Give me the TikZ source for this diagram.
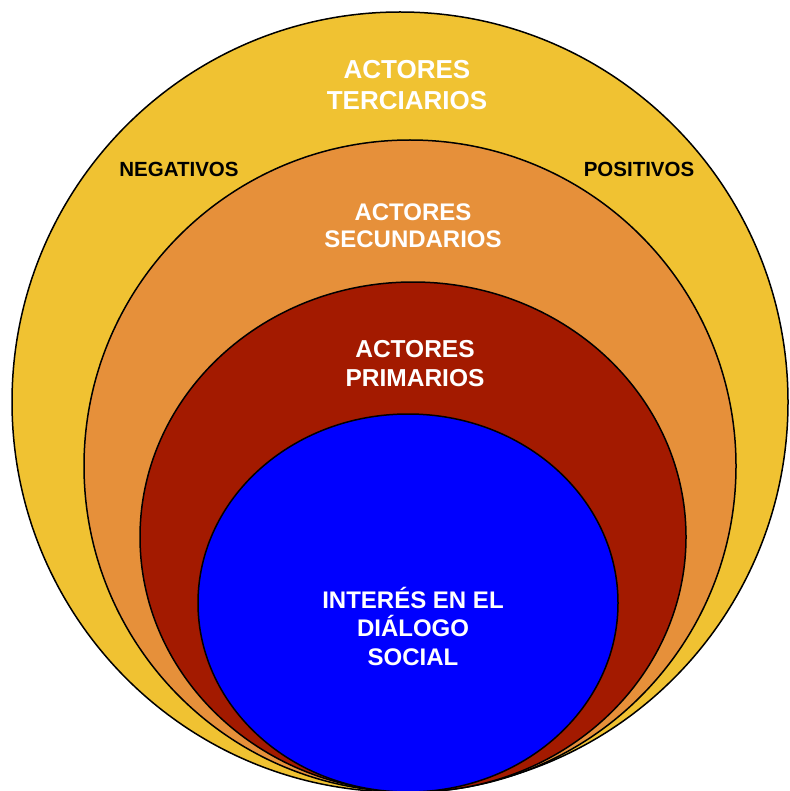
\documentclass[tikz,border=0pt]{standalone}
\usepackage{fontspec}
\setmainfont{Liberation Sans}
\definecolor{cyellow}{HTML}{F0C232}
\definecolor{corange}{HTML}{E6903A}
\definecolor{cred}{HTML}{A31A00}
\definecolor{cblue}{HTML}{0000FF}
\tikzset{
  ring/.style={draw=black, line width=1.5pt},
  wlabel/.style={text=white, font=\bfseries, align=center, inner sep=0pt},
  blabel/.style={text=black, font=\bfseries\fontsize{20.5}{24}\selectfont, inner sep=0pt}
}
\begin{document}
\begin{tikzpicture}[x=1pt,y=-1pt]
\useasboundingbox (0,0) rectangle (789,791);
\clip (0,0) rectangle (789,791);
\fill[white] (0,0) rectangle (789,791);
\path[ring, fill=cyellow] (400,402) ellipse [x radius=388, y radius=390];
\path[ring, fill=corange] (410,466) ellipse [x radius=326, y radius=326];
\path[ring, fill=cred] (413,537) ellipse [x radius=273, y radius=255];
\path[ring, fill=cblue] (408,603) ellipse [x radius=210, y radius=189];
\node[wlabel, font=\bfseries\fontsize{26}{31}\selectfont] (ter) at (407,85) {ACTORES\\TERCIARIOS};
\node[wlabel, font=\bfseries\fontsize{24}{27}\selectfont] (sec) at (413,226) {ACTORES\\SECUNDARIOS};
\node[wlabel, font=\bfseries\fontsize{24.5}{29}\selectfont] (pri) at (415,364) {ACTORES\\PRIMARIOS};
\node[wlabel, font=\bfseries\fontsize{24}{28.5}\selectfont] (int) at (413,626) {INTERÉS EN EL\\DIÁLOGO\\SOCIAL};
\node[blabel] (neg) at (179,169) {NEGATIVOS};
\node[blabel] (pos) at (639,169) {POSITIVOS};
\end{tikzpicture}
\end{document}
